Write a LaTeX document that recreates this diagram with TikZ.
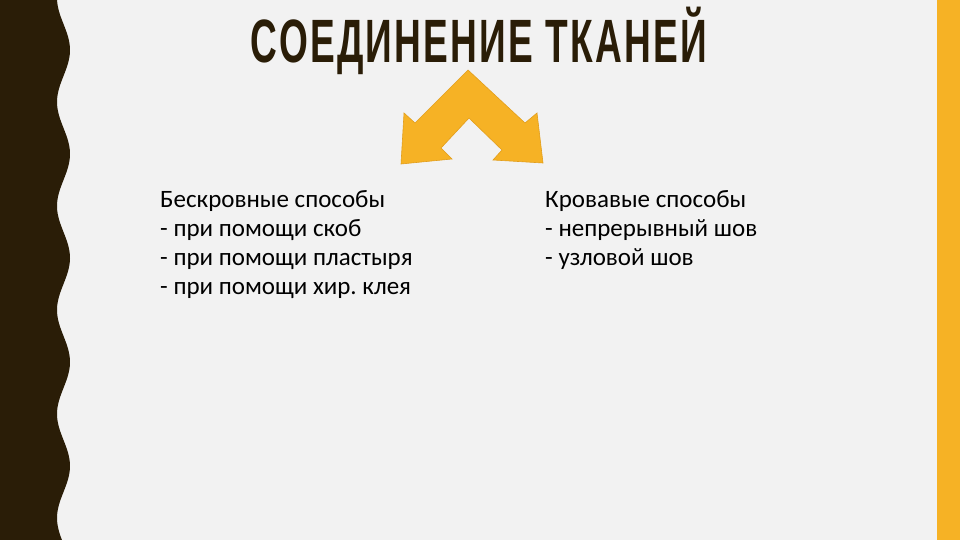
\documentclass[tikz,border=0pt]{standalone}
\usepackage{fontspec}
\usepackage{graphicx}
\setmainfont{Carlito}
\newfontfamily\titlefont[LetterSpace=6]{Liberation Sans}
\definecolor{paper}{HTML}{F2F2F2}
\definecolor{bark}{HTML}{2A1D07}
\definecolor{amber}{HTML}{F6B225}
\definecolor{amberedge}{HTML}{E29E1C}
\frenchspacing
\tikzset{
  item/.style={anchor=base west, inner sep=0pt, font=\fontsize{25}{29}\selectfont, text=black},
  heading/.style={anchor=base, inner sep=0pt, text=bark}
}
\begin{document}
\begin{tikzpicture}[x=1pt, y=-1pt]
  \useasboundingbox (0,0) rectangle (960,540);
  \fill[paper] (0,0) rectangle (960,540);
  % left wavy band
  \fill[bark] (0,0) -- plot[variable=\t, domain=0:540, samples=160, smooth]
    ({63.5+6.5*cos((\t-50)/104*360)}, \t) -- (0,540) -- cycle;
  % right band
  \fill[amber] (937,0) rectangle (960,540);
  \node[heading] (title) at (479,63)
    {\scalebox{0.618}[1.02]{\titlefont\bfseries\fontsize{60}{60}\selectfont СОЕДИНЕНИЕ ТКАНЕЙ}};
  % double arrow
  \fill[amber, draw=amberedge, line width=0.6pt, line join=miter]
    (468,70) -- (525,123) -- (537,113) -- (543,163) -- (493,160) -- (502,150)
    -- (469,118) -- (441,148) -- (452,159) -- (401,164) -- (404,113) -- (415,123) -- cycle;
  \node[item] (b0) at (160,207) {Бескровные способы};
  \node[item] (b1) at (160,236) {- при помощи скоб};
  \node[item] (b2) at (160,265) {- при помощи пластыря};
  \node[item] (b3) at (160,294) {- при помощи хир. клея};
  \node[item] (k0) at (545,207) {Кровавые способы};
  \node[item] (k1) at (545,236) {- непрерывный шов};
  \node[item] (k2) at (545,265) {- узловой шов};
\end{tikzpicture}
\end{document}
